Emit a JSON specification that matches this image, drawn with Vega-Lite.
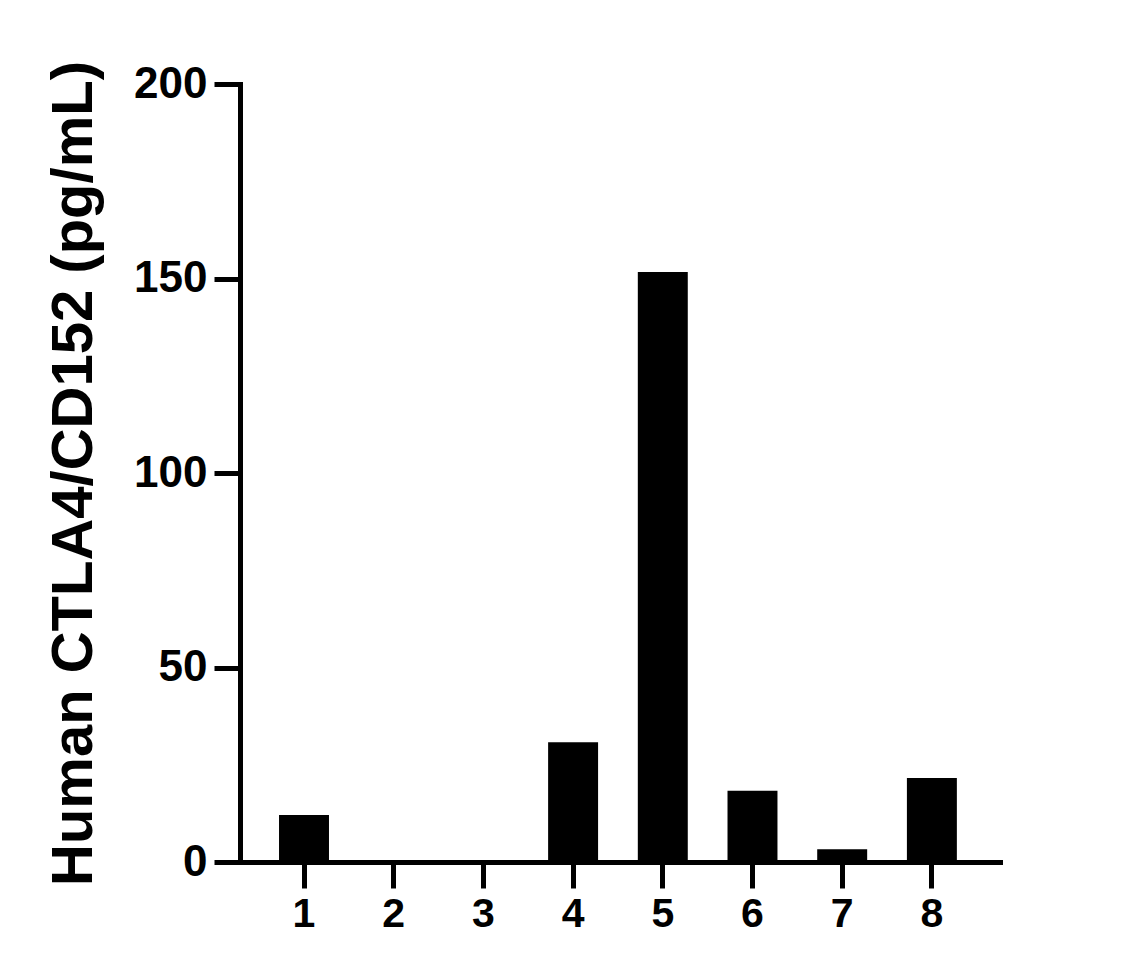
{
  "$schema": "https://vega.github.io/schema/vega-lite/v6.json",
  "autosize": "none",
  "width": 760,
  "height": 778,
  "padding": {"left": 240, "top": 84, "right": 132, "bottom": 118},
  "background": "white",
  "data": {"values": [
    {"sample": "1", "value": 12.1},
    {"sample": "2", "value": 0},
    {"sample": "3", "value": 0},
    {"sample": "4", "value": 30.8},
    {"sample": "5", "value": 151.7},
    {"sample": "6", "value": 18.3},
    {"sample": "7", "value": 3.3},
    {"sample": "8", "value": 21.6}
  ]},
  "mark": {"type": "bar", "color": "black"},
  "encoding": {
    "x": {
      "field": "sample", "type": "ordinal", "sort": null,
      "scale": {"paddingInner": 0.443, "paddingOuter": 0.458, "align": 0.475},
      "axis": {"title": null, "labelAngle": 0, "labelFont": "Liberation Sans", "labelFontWeight": "bold", "labelFontSize": 41, "labelColor": "black", "labelPadding": 6, "tickSize": 26, "tickWidth": 5, "tickColor": "black", "domainColor": "black", "domainWidth": 5, "domainCap": "square", "grid": false}
    },
    "y": {
      "field": "value", "type": "quantitative",
      "scale": {"domain": [0, 200], "nice": false},
      "axis": {"title": "Human CTLA4/CD152 (pg/mL)", "values": [0, 50, 100, 150, 200], "titleFont": "Liberation Sans", "titleFontWeight": "bold", "titleFontSize": 58, "titleColor": "black", "titlePadding": 30, "labelFont": "Liberation Sans", "labelFontWeight": "bold", "labelFontSize": 44, "labelColor": "black", "labelPadding": 7, "tickSize": 26, "tickWidth": 5, "tickColor": "black", "domainColor": "black", "domainWidth": 5, "domainCap": "square", "grid": false}
    }
  },
  "config": {"view": {"stroke": null}}
}
